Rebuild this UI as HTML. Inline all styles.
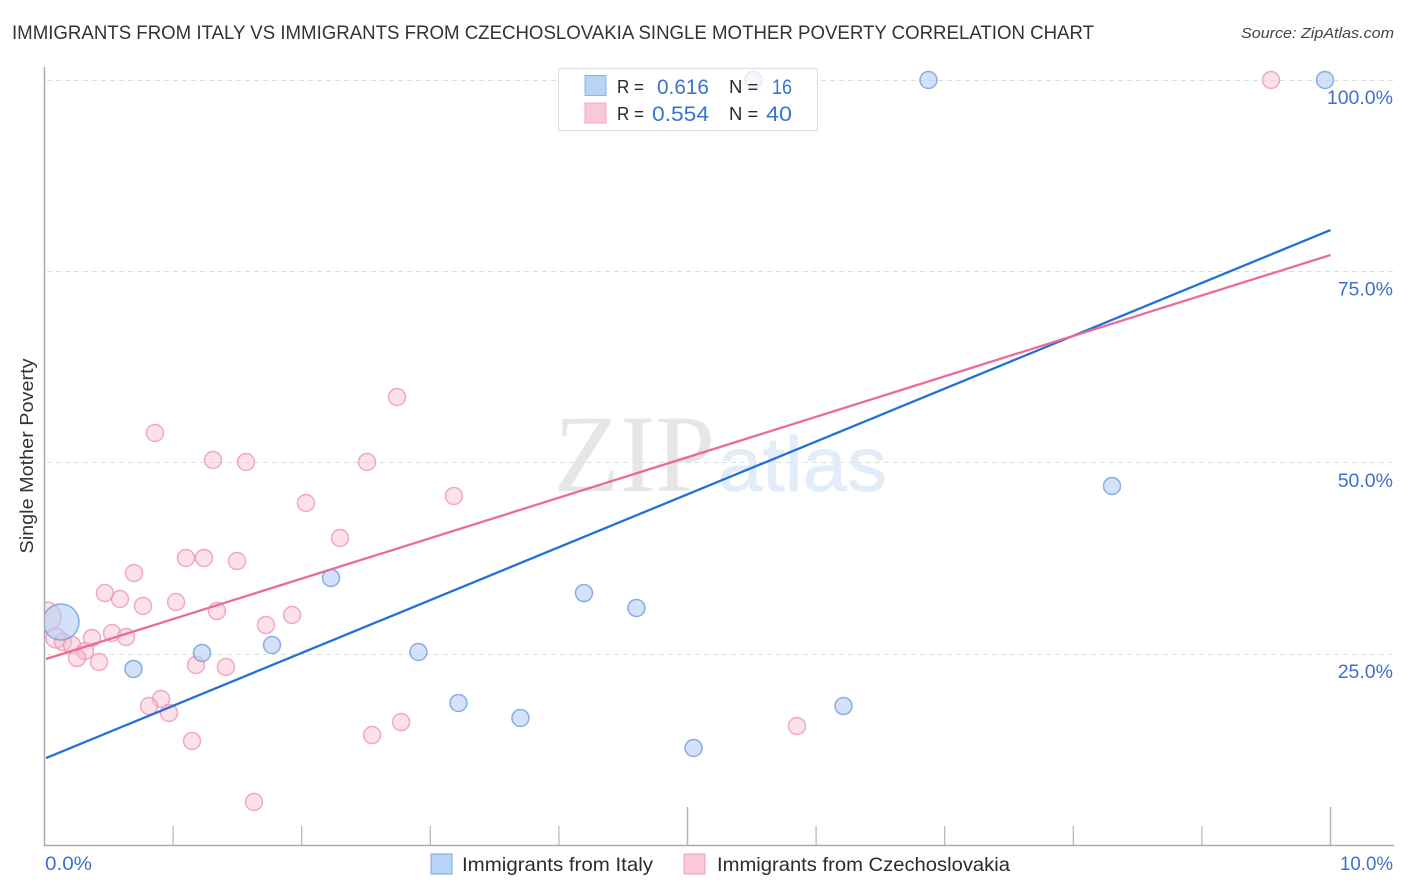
<!DOCTYPE html>
<html lang="en">
<head>
<meta charset="utf-8">
<title>Immigrants from Italy vs Immigrants from Czechoslovakia Single Mother Poverty Correlation Chart</title>
<style>
html,body{margin:0;padding:0;background:#fff;width:1406px;height:892px;overflow:hidden}
svg{display:block;font-family:"Liberation Sans",sans-serif}
</style>
</head>
<body>
<svg id="chart" xmlns="http://www.w3.org/2000/svg" width="1406" height="892" viewBox="0 0 1406 892">
  <defs>
    <clipPath id="plot-clip"><rect x="45" y="60" width="1350" height="785"/></clipPath>
  </defs>
  <rect x="0" y="0" width="1406" height="892" fill="#fff"/>
  <text x="12" y="39" font-size="19" fill="#333" textLength="1082" lengthAdjust="spacingAndGlyphs">IMMIGRANTS FROM ITALY VS IMMIGRANTS FROM CZECHOSLOVAKIA SINGLE MOTHER POVERTY CORRELATION CHART</text>
  <text x="1241" y="38" font-size="15" font-style="italic" fill="#444" textLength="153" lengthAdjust="spacingAndGlyphs">Source: ZipAtlas.com</text>
  <g id="grid"></g>
  <g>
    <text x="554" y="491" font-family="'Liberation Serif',serif" font-size="110" fill="#e6e6e6" textLength="161" lengthAdjust="spacingAndGlyphs">ZIP</text>
    <text x="718" y="491" font-family="'Liberation Sans',sans-serif" font-size="77" fill="#e3edf9" stroke="#e3edf9" stroke-width="0.8" textLength="169" lengthAdjust="spacingAndGlyphs">atlas</text>
  </g>
  <g id="points" clip-path="url(#plot-clip)"></g>
  <g id="trends"></g>
  <g id="axes"></g>
  <text transform="translate(33,456) rotate(-90)" text-anchor="middle" font-size="18" fill="#333" textLength="195" lengthAdjust="spacingAndGlyphs">Single Mother Poverty</text>
  <g>
    <rect x="558.5" y="68.5" width="259" height="62" fill="#fff" fill-opacity="0.75" stroke="#e0e0e0" stroke-width="1.2"/>
    <rect x="585" y="75.5" width="21" height="20" fill="#b7d4f7" stroke="#8fb3e3" stroke-width="1"/>
    <rect x="585" y="103" width="21" height="20" fill="#fac8d9" stroke="#f4a9c2" stroke-width="1"/>
    <text x="617" y="93" font-size="18.5" fill="#2b2b2b" textLength="27" lengthAdjust="spacingAndGlyphs">R =</text>
    <text x="657" y="94" font-size="21" fill="#3a74d0" textLength="52" lengthAdjust="spacingAndGlyphs">0.616</text>
    <text x="729" y="93" font-size="18.5" fill="#2b2b2b">N =</text>
    <text x="772" y="94" font-size="21" fill="#3a74d0" textLength="20" lengthAdjust="spacingAndGlyphs">16</text>
    <text x="617" y="120" font-size="18.5" fill="#2b2b2b" textLength="27" lengthAdjust="spacingAndGlyphs">R =</text>
    <text x="652" y="121" font-size="21" fill="#3a74d0" textLength="57" lengthAdjust="spacingAndGlyphs">0.554</text>
    <text x="729" y="120" font-size="18.5" fill="#2b2b2b">N =</text>
    <text x="766" y="121" font-size="21" fill="#3a74d0" textLength="26" lengthAdjust="spacingAndGlyphs">40</text>
  </g>
  <g>
    <rect x="431" y="854" width="21" height="20" fill="#b7d4f7" stroke="#7ba6dd" stroke-width="1"/>
    <text x="462" y="871" font-size="19.5" fill="#2b2b2b" textLength="191" lengthAdjust="spacingAndGlyphs">Immigrants from Italy</text>
    <rect x="684" y="854" width="21" height="20" fill="#fac8d9" stroke="#f19dba" stroke-width="1"/>
    <text x="717" y="871" font-size="19.5" fill="#2b2b2b" textLength="293" lengthAdjust="spacingAndGlyphs">Immigrants from Czechoslovakia</text>
  </g>
</svg>
<script>
const italyX = [0.692,1.225,1.769,2.228,2.908,3.219,3.701,4.195,4.603,5.047,6.213,8.301,6.874,9.957,5.513,0.128];
const italyY = [23.06,25.15,26.19,34.95,25.28,18.62,16.66,32.98,31.03,12.74,18.22,46.96,100,100,100,29.2];
const italyWeight = [1,1,1,1,1,1,1,1,1,1,1,1,1,1,1,4.5];
const czechX = [0.859,1.310,1.567,2.508,2.741,3.184,2.033,2.298,1.100,1.240,1.497,0.696,0.470,0.587,0.766,1.023,1.341,1.925,1.722,0.012,0.089,0.144,0.214,0.315,0.369,0.525,0.634,0.253,0.424,1.178,1.411,0.906,0.813,0.968,1.147,1.629,2.547,2.773,5.851,9.537];
const czechY = [53.89,50.36,50.10,50.10,58.59,45.66,44.74,40.17,37.56,37.56,37.16,35.60,32.98,32.20,31.29,31.81,30.63,30.11,28.80,29.85,27.11,26.58,26.19,25.41,27.11,27.76,27.24,24.49,23.97,23.58,23.32,19.14,18.22,17.31,13.65,5.68,14.43,16.13,15.61,100];
const czechWeight = [1,1,1,1,1,1,1,1,1,1,1,1,1,1,1,1,1,1,1,3.1,1.4,1,1,1,1,1,1,1,1,1,1,1,1,1,1,1,1,1,1,1];
const trendX = [0.012,10];
const italyTrendY = [11.43,80.4];
const czechTrendY = [24.36,77.14];
const yTickValues = [25,50,75,100];
const yTickLabels = ["25.0%","50.0%","75.0%","100.0%"];
const xTickValues = [0,1,2,3,4,5,6,7,8,9,10];
const xEndLabels = ["0.0%","10.0%"];

const NS = "http://www.w3.org/2000/svg";
function xScale(v){ return 44.5 + v * 128.6; }
function yScale(v){ return 845.5 - v * 7.655; }
function rScale(w){ return 8.5 * Math.sqrt(w); }
function make(tag, attrs, parent){
  const el = document.createElementNS(NS, tag);
  for (const k in attrs) el.setAttribute(k, attrs[k]);
  parent.appendChild(el);
  return el;
}
const gridG = document.getElementById("grid");
const axesG = document.getElementById("axes");
const pointsG = document.getElementById("points");
const trendsG = document.getElementById("trends");

yTickValues.forEach(function(v, i){
  const gy = Math.floor(yScale(v)) + 0.5;
  const line = make("line", {x1:47, x2:1393, y1:gy, y2:gy, stroke:"#dedede", "stroke-width":1, "stroke-dasharray":"5 4"}, gridG);
  
  
  const label = make("text", {x:1393, y:yScale(v)+24, "text-anchor":"end", "font-size":19.5, fill:"#3f6fd0"}, axesG);
  
  
  label.textContent = yTickLabels[i];
});

const yAxis = make("line", {x1:44.5, x2:44.5, y1:67, y2:846, stroke:"#aaaaaa", "stroke-width":1.5}, axesG);


const xAxis = make("line", {x1:44, x2:1394, y1:845.5, y2:845.5, stroke:"#aaaaaa", "stroke-width":1.5}, axesG);



xTickValues.forEach(function(v){
  if (v === 0) return;
  const major = v % 5 === 0;
  const tick = make("line", {x1:xScale(v), x2:xScale(v), y1:major ? 807 : 826, y2:845, stroke:"#b5b5b5", "stroke-width":major ? 1.5 : 1.2}, axesG);
  
  
});

const xStart = make("text", {x:45, y:870, "font-size":19.5, fill:"#3f6fd0", textLength:47, lengthAdjust:"spacingAndGlyphs"}, axesG);


xStart.textContent = xEndLabels[0];
const xEnd = make("text", {x:1340, y:870, "font-size":19.5, fill:"#3f6fd0", textLength:53, lengthAdjust:"spacingAndGlyphs"}, axesG);


xEnd.textContent = xEndLabels[1];

czechX.forEach(function(v, i){
  const c = make("circle", {cx:xScale(v), cy:yScale(czechY[i]), r:rScale(czechWeight[i]), fill:"#f8bbd0", "fill-opacity":0.45, stroke:"#ee90b0", "stroke-opacity":0.75, "stroke-width":1.5}, pointsG);
  
  
});
italyX.forEach(function(v, i){
  const c = make("circle", {cx:xScale(v), cy:yScale(italyY[i]), r:rScale(italyWeight[i]), fill:"#b5cff4", "fill-opacity":0.6, stroke:"#6f9ce0", "stroke-opacity":0.8, "stroke-width":1.5}, pointsG);
  
  
});

const italyLine = make("line", {x1:xScale(trendX[0]), y1:yScale(italyTrendY[0]), x2:xScale(trendX[1]), y2:yScale(italyTrendY[1]), stroke:"#2270d8", "stroke-width":2.3}, trendsG);


const czechLine = make("line", {x1:xScale(trendX[0]), y1:yScale(czechTrendY[0]), x2:xScale(trendX[1]), y2:yScale(czechTrendY[1]), stroke:"#ec6a97", "stroke-width":2.3}, trendsG);


</script>
</body>
</html>
